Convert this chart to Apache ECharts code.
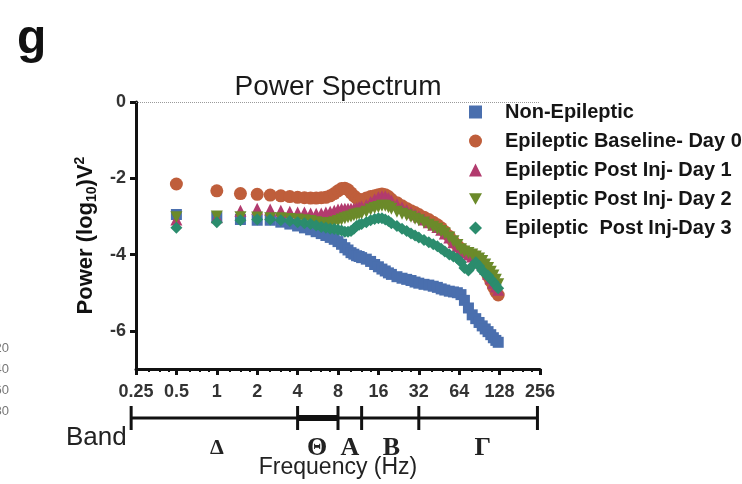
<!DOCTYPE html>
<html><head><meta charset="utf-8">
<script src="https://cdn.jsdelivr.net/npm/echarts@6/dist/echarts.min.js"></script>
<style>html,body{margin:0;padding:0;background:#fff}#c{width:742px;height:484px}</style>
</head><body><div id="c"></div><script>
// ---- data ----
const freqs = [0.5,1,1.5,2,2.5,3,3.5,4,4.5,5,5.5,6,6.5,7,7.5,8,8.5,9,9.5,10,10.5,11,11.5,12,
  13,14,15,16,17,18,19,20,22,24,26,28,30,32,35,38,41,44,47,50,54,58,62,66,70,
  75,80,85,90,95,100,105,110,115,120,125];
const nonEpileptic = [-2.95,-3.02,-3.08,-3.10,-3.10,-3.15,-3.20,-3.25,-3.30,-3.35,-3.40,-3.45,-3.50,-3.55,-3.60,-3.66,-3.73,-3.82,-3.88,-3.95,-3.99,-4.03,-4.05,-4.08,
  -4.12,-4.18,-4.26,-4.32,-4.38,-4.43,-4.48,-4.52,-4.58,-4.62,-4.65,-4.68,-4.72,-4.75,-4.78,-4.80,-4.83,-4.86,-4.90,-4.93,-4.96,-4.98,-5.00,-5.05,-5.20,
  -5.40,-5.58,-5.68,-5.78,-5.87,-5.95,-6.02,-6.10,-6.18,-6.25,-6.30];
const baselineDay0 = [-2.15,-2.33,-2.40,-2.42,-2.44,-2.46,-2.48,-2.50,-2.51,-2.52,-2.52,-2.51,-2.50,-2.46,-2.40,-2.33,-2.27,-2.26,-2.30,-2.38,-2.46,-2.52,-2.56,-2.56,
  -2.52,-2.48,-2.46,-2.43,-2.41,-2.43,-2.48,-2.55,-2.64,-2.72,-2.79,-2.85,-2.90,-2.95,-3.02,-3.08,-3.15,-3.22,-3.30,-3.40,-3.52,-3.66,-3.76,-3.85,-3.92,
  -3.97,-4.02,-4.06,-4.12,-4.25,-4.40,-4.55,-4.70,-4.85,-4.97,-5.06];
const postInjDay1 = [-3.08,-3.02,-2.85,-2.80,-2.82,-2.85,-2.88,-2.90,-2.90,-2.92,-2.93,-2.92,-2.90,-2.88,-2.85,-2.82,-2.80,-2.80,-2.80,-2.80,-2.79,-2.78,-2.76,-2.74,
  -2.70,-2.62,-2.55,-2.50,-2.47,-2.47,-2.52,-2.58,-2.68,-2.76,-2.83,-2.90,-2.95,-3.00,-3.08,-3.15,-3.22,-3.28,-3.35,-3.45,-3.55,-3.68,-3.78,-3.86,-3.93,
  -4.00,-4.05,-4.10,-4.15,-4.25,-4.38,-4.50,-4.62,-4.74,-4.84,-4.92];
const postInjDay2 = [-3.02,-3.00,-3.02,-3.03,-3.05,-3.05,-3.07,-3.08,-3.10,-3.12,-3.15,-3.17,-3.18,-3.18,-3.15,-3.12,-3.08,-3.05,-3.02,-3.00,-2.97,-2.95,-2.93,-2.92,
  -2.88,-2.82,-2.78,-2.75,-2.72,-2.72,-2.76,-2.80,-2.88,-2.93,-2.97,-3.01,-3.06,-3.10,-3.16,-3.22,-3.27,-3.32,-3.38,-3.45,-3.55,-3.65,-3.75,-3.86,-3.92,
  -3.96,-4.00,-4.05,-4.10,-4.17,-4.26,-4.35,-4.45,-4.55,-4.66,-4.78];
const postInjDay3 = [-3.30,-3.15,-3.10,-3.08,-3.08,-3.10,-3.12,-3.15,-3.18,-3.20,-3.24,-3.28,-3.30,-3.32,-3.33,-3.35,-3.37,-3.40,-3.40,-3.38,-3.32,-3.25,-3.22,-3.20,
  -3.15,-3.10,-3.07,-3.05,-3.05,-3.08,-3.12,-3.18,-3.25,-3.32,-3.38,-3.45,-3.50,-3.55,-3.62,-3.68,-3.73,-3.78,-3.85,-3.92,-4.00,-4.05,-4.10,-4.20,-4.35,
  -4.42,-4.30,-4.20,-4.30,-4.42,-4.50,-4.55,-4.65,-4.72,-4.80,-4.88];
const seriesNames = ['Non-Epileptic','Epileptic Baseline- Day 0','Epileptic Post Inj- Day 1','Epileptic Post Inj- Day 2','Epileptic  Post Inj-Day 3'];
const xTicks = [0.25,0.5,1,2,4,8,16,32,64,128,256];
const yTicks = [0,-2,-4,-6];
const bandEdges = [0.23, 4, 8, 12, 32, 245];
const bandNames = ['\u0394','\u0398','A','B','\u0393'];
const bandCenters = [1, 5.6, 9.8, 20, 96];
const sideNumbers = ['20','40','60','80'];

// minor tick positions inside each octave (1.25x, 1.5x, 1.75x)
const xMinorTicks = [];
xTicks.slice(0, -1).forEach(t => [1.25, 1.5, 1.75].forEach(m => xMinorTicks.push(t * m)));

// ---- chart ----
const FONT = "'Liberation Sans', Arial, sans-serif";
const SERIF = "'Liberation Serif', 'DejaVu Serif', serif";
const colors = ['#4a6fae','#bf5e3b','#b23b6e','#6b8a2a','#2b8c6d'];
const symbols = ['rect','circle','triangle','path://M0,0L2,0L1,1.75Z','diamond'];
const sizes = [11,13,12,12,12];
const values = [nonEpileptic, baselineDay0, postInjDay1, postInjDay2, postInjDay3];

const chart = echarts.init(document.getElementById('c'), null, {renderer:'canvas'});
const series = values.map((arr, k) => ({
  name: seriesNames[k], type: 'scatter',
  data: freqs.map((f, i) => [f, arr[i]]),
  symbol: symbols[k], symbolSize: sizes[k],
  itemStyle: {color: colors[k], opacity: 1},
  z: 2 + k,
  markLine: k === 0 ? {silent: true, symbol: ['none','none'], label: {show: false},
    lineStyle: {type: 'dotted', color: '#9a9a9a', width: 1}, data: [{yAxis: 0}]} : undefined
}));

chart.setOption({
  animation: false,
  backgroundColor: '#fff',
  textStyle: {fontFamily: FONT},
  title: {text: 'Power Spectrum', left: 338, top: 73, textAlign: 'center', padding: 0,
    textStyle: {fontFamily: FONT, fontSize: 28, fontWeight: 'normal', color: '#1a1a1a'}},
  legend: {orient: 'vertical', left: 469, top: 102, padding: 0, itemWidth: 13, itemHeight: 13, itemGap: 9,
    data: seriesNames,
    textStyle: {fontFamily: FONT, fontSize: 20, fontWeight: 'bold', color: '#151515', lineHeight: 20, padding: [0,0,0,18]}},
  grid: {left: 136, right: 202, top: 102, bottom: 115},
  xAxis: [{
    type: 'log', logBase: 2, min: 0.25, max: 256, splitNumber: 10,
    name: 'Frequency (Hz)', nameLocation: 'middle', nameGap: 87,
    nameTextStyle: {fontFamily: FONT, fontSize: 23, color: '#222'},
    axisLine: {onZero: false, lineStyle: {color: '#111', width: 3}},
    axisTick: {show: true, length: 6, customValues: xTicks, lineStyle: {color: '#111', width: 3}},
    splitLine: {show: false},
    axisLabel: {margin: 14, customValues: xTicks, interval: 0, hideOverlap: false, fontFamily: FONT, fontSize: 18, fontWeight: 'bold', color: '#333',
      formatter: v => String(+(+v).toPrecision(4))}
  }, {
    type: 'log', logBase: 2, min: 0.25, max: 256, position: 'bottom',
    axisLine: {show: false, onZero: false},
    axisTick: {show: true, length: 3, customValues: xMinorTicks, lineStyle: {color: '#111', width: 2}},
    axisLabel: {show: false},
    splitLine: {show: false}
  }],
  yAxis: {
    type: 'value', min: -7, max: 0,
    name: '{n|Power (log}{s|10}{n|)V}{p|2}', nameLocation: 'middle', nameGap: 36,
    nameTextStyle: {rich: {
      n: {fontFamily: FONT, fontSize: 22, fontWeight: 'bold', color: '#111', lineHeight: 26},
      s: {fontFamily: FONT, fontSize: 14, fontWeight: 'bold', color: '#111', verticalAlign: 'bottom', lineHeight: 26},
      p: {fontFamily: FONT, fontSize: 14, fontWeight: 'bold', color: '#111', verticalAlign: 'top', lineHeight: 26}
    }},
    axisLine: {show: true, lineStyle: {color: '#111', width: 3}},
    axisTick: {show: true, length: 6, customValues: yTicks, lineStyle: {color: '#111', width: 3}},
    splitLine: {show: false},
    axisLabel: {margin: 10, customValues: yTicks, fontFamily: FONT, fontSize: 18, fontWeight: 'bold', color: '#333'}
  },
  series: series
});

// band annotation, positioned through the x axis scale
const px = f => chart.convertToPixel({xAxisIndex: 0}, f);
const yBand = 418;
const xs = bandEdges.map(px);
const g = [];
g.push({type: 'line', shape: {x1: xs[0], y1: yBand, x2: xs[xs.length-1], y2: yBand}, style: {stroke: '#111', lineWidth: 3}});
g.push({type: 'line', shape: {x1: xs[1], y1: yBand, x2: xs[2], y2: yBand}, style: {stroke: '#111', lineWidth: 6}});
xs.forEach(x => g.push({type: 'line', shape: {x1: x, y1: 406, x2: x, y2: 430}, style: {stroke: '#111', lineWidth: 3}}));
bandNames.forEach((t, i) => g.push({type: 'text', x: px(bandCenters[i]), y: 448,
  style: {text: t, fill: '#222', font: 'bold ' + (i === 0 ? 22 : 26) + 'px ' + SERIF, textAlign: 'center', textVerticalAlign: 'middle'}}));
g.push({type: 'text', x: 66, y: 438, style: {text: 'Band', fill: '#222', font: '26px ' + FONT, textAlign: 'left', textVerticalAlign: 'middle'}});
g.push({type: 'text', x: 17, y: 16, style: {text: 'g', fill: '#111', font: 'bold 48px ' + FONT, textAlign: 'left', textVerticalAlign: 'top'}});
sideNumbers.forEach((t, i) => g.push({type: 'text', x: 9, y: 348 + 21 * i,
  style: {text: t, fill: '#777', font: '13px ' + FONT, textAlign: 'right', textVerticalAlign: 'middle'}}));
chart.setOption({graphic: {elements: g}});
</script></body></html>
